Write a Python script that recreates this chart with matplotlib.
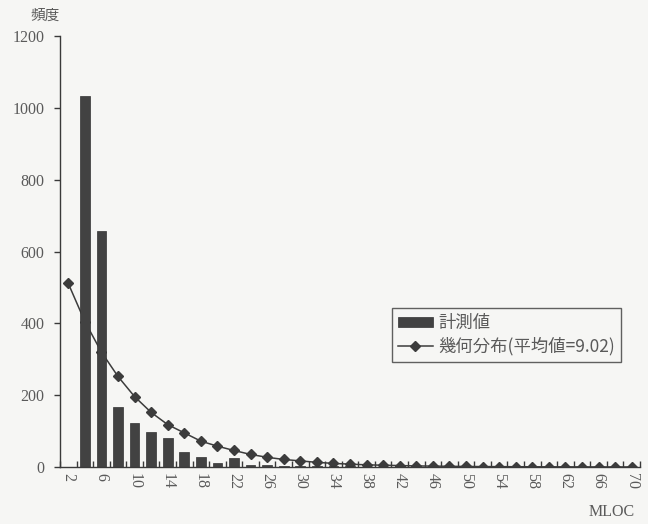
import matplotlib
matplotlib.use("Agg")
import matplotlib.pyplot as plt
import numpy as np

# MLOC classes (bin start values)
categories = list(range(2, 71, 2))

# Measured frequencies per class
measured = [0, 1033, 656, 167, 122, 97, 81, 42, 28, 11,
            25, 5, 6, 4, 3, 3, 2, 2, 1, 1,
            1, 0, 0, 0, 0, 0, 0, 0, 0, 0,
            0, 0, 0, 0, 0]

# Geometric distribution fitted with mean 9.02
geometric = [511, 405, 320, 252, 196, 152, 118, 95, 72, 58,
             46, 35, 27, 21, 17, 13, 10, 8, 6, 5,
             4, 3, 2.5, 2, 1.5, 1.2, 1, 0.8, 0.6, 0.5,
             0.4, 0.3, 0.2, 0.2, 0.1]

y_ticks = [0, 200, 400, 600, 800, 1000, 1200]

label_measured = "計測値"
label_geometric = "幾何分布(平均値=9.02)"
y_title = "頻度"
x_title = "MLOC"

jp_font = ["Noto Sans CJK JP", "DejaVu Sans"]
num_font = ["Liberation Serif", "DejaVu Serif"]
bg = "#f6f6f4"
ink = "#3a3a3a"
text_col = "#5a5a5a"

fig = plt.figure(figsize=(6.48, 5.24), dpi=100, facecolor=bg)
ax = fig.add_axes([60 / 648, 1 - 467 / 524, 580 / 648, 431 / 524])
ax.set_facecolor(bg)

idx = np.arange(len(categories))
bars = ax.bar(idx, measured, width=0.58, color="#424242", edgecolor="#333333",
              linewidth=0.5, label=label_measured, zorder=4)
line, = ax.plot(idx, geometric, color="#3c3c3c", linewidth=1.1, marker="D",
                markersize=5, markerfacecolor="#3c3c3c",
                markeredgecolor="#3c3c3c", label=label_geometric, zorder=3)

ax.set_xlim(-0.5, len(categories) - 0.5)
ax.set_ylim(0, 1200)

for side in ("top", "right"):
    ax.spines[side].set_visible(False)
for side in ("left", "bottom"):
    ax.spines[side].set_color(ink)
    ax.spines[side].set_linewidth(1.0)
    ax.spines[side].set_zorder(5)

ax.set_yticks(y_ticks)
ax.set_yticklabels([str(v) for v in y_ticks], fontfamily=num_font,
                   fontsize=11.5, color=text_col)
ax.tick_params(axis="y", direction="out", length=4, width=1, color=ink, pad=7)

label_idx = idx[::2]
ax.set_xticks(label_idx)
ax.set_xticklabels([str(categories[i]) for i in label_idx], rotation=270,
                   fontfamily=num_font, fontsize=11.5, color=text_col)
ax.tick_params(axis="x", which="major", length=0, pad=4)
ax.set_xticks(np.arange(-0.5, len(categories), 1.0), minor=True)
ax.tick_params(axis="x", which="minor", direction="in", length=4, width=1,
               color=ink)

leg = ax.legend(handles=[bars, line], labels=[label_measured, label_geometric],
                loc="upper left", bbox_to_anchor=(392 / 648, 1 - 308 / 524),
                bbox_transform=fig.transFigure, borderaxespad=0,
                prop={"family": jp_font, "size": 12.5}, frameon=True,
                fancybox=False, handlelength=2.0, handleheight=0.5,
                borderpad=0.35, labelspacing=0.3, handletextpad=0.3)
leg.get_frame().set_edgecolor(ink)
leg.get_frame().set_linewidth(1.0)
leg.get_frame().set_facecolor(bg)
leg.set_zorder(6)
for t in leg.get_texts():
    t.set_color(text_col)

fig.text(45 / 648, 1 - 16 / 524, y_title, ha="center", va="center",
         fontfamily=jp_font, fontsize=10.5, color=text_col)
fig.text(612 / 648, 1 - 512 / 524, x_title, ha="center", va="center",
         fontfamily=num_font, fontsize=11.5, color=text_col)

fig.savefig("out.png", dpi=100, facecolor=bg)
